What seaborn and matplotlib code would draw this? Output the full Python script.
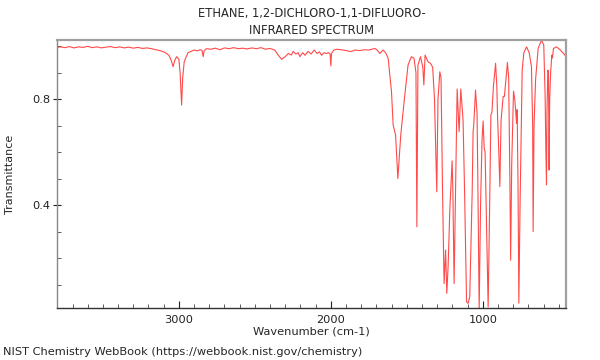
#!/usr/bin/env python3
"""IR spectrum of 1,2-dichloro-1,1-difluoroethane (NIST WebBook style)."""

import matplotlib
matplotlib.use("Agg")
import matplotlib.pyplot as plt
import numpy as np
import pandas as pd
import seaborn as sns
from matplotlib.ticker import FixedLocator, MultipleLocator

TITLE_LINES = ["ETHANE, 1,2-DICHLORO-1,1-DIFLUORO-", "INFRARED SPECTRUM"]
X_LABEL = "Wavenumber (cm-1)"
Y_LABEL = "Transmittance"
FOOTER = "NIST Chemistry WebBook (https://webbook.nist.gov/chemistry)"

X_TICKS = [1000, 2000, 3000]
Y_TICKS = [0.4, 0.8]

# values (cm-1, transmittance)
wavenumber = [
    3802, 3780, 3750, 3720, 3690, 3660, 3630, 3600, 3570, 3540,
    3510, 3480, 3450, 3420, 3390, 3360, 3330, 3300, 3270, 3240,
    3210, 3180, 3150, 3120, 3090, 3065, 3050, 3038, 3028, 3015,
    3000, 2992, 2982, 2975, 2965, 2955, 2940, 2920, 2900, 2880,
    2860, 2848, 2840, 2834, 2820, 2790, 2760, 2730, 2700, 2670,
    2640, 2610, 2580, 2550, 2520, 2490, 2460, 2430, 2400, 2370,
    2345, 2324, 2300, 2280, 2260, 2248, 2230, 2215, 2204, 2185,
    2170, 2150, 2130, 2110, 2090, 2075, 2061, 2045, 2030, 2015,
    2005, 2000, 1996, 1980, 1960, 1930, 1900, 1870, 1840, 1810,
    1780, 1750, 1730, 1711, 1695, 1678, 1656, 1640, 1623, 1601,
    1590, 1574, 1559, 1540, 1518, 1492, 1470, 1453, 1440, 1434,
    1427, 1410, 1395, 1388, 1380, 1360, 1345, 1330, 1318, 1303,
    1295, 1283, 1275, 1265, 1255, 1245, 1237, 1228, 1217, 1202,
    1197, 1189, 1169, 1156, 1145, 1130, 1120, 1107, 1097, 1086,
    1070, 1064, 1060, 1048, 1038, 1032, 1024, 1015, 1005, 998,
    991, 985, 975, 965, 955, 947, 940, 930, 916, 908,
    903, 896, 888, 880, 866, 858, 838, 830, 822, 817,
    810, 798, 789, 778, 774, 768, 763, 755, 741, 730,
    712, 695, 680, 672, 669, 663, 653, 636, 614, 599,
    590, 585, 581, 578, 572, 568, 564, 560, 554, 546,
    542, 535, 515, 490, 460, 454,
]
transmittance = [
    0.995, 0.997, 0.994, 0.998, 0.993, 0.997, 0.995, 0.999, 0.994, 0.997,
    0.993, 0.996, 0.998, 0.994, 0.997, 0.993, 0.996, 0.992, 0.995, 0.991,
    0.993, 0.990, 0.986, 0.982, 0.976, 0.965, 0.945, 0.922, 0.945, 0.960,
    0.950, 0.900, 0.777, 0.880, 0.940, 0.955, 0.975, 0.980, 0.985, 0.982,
    0.986, 0.984, 0.960, 0.982, 0.990, 0.988, 0.992, 0.986, 0.993, 0.990,
    0.994, 0.990, 0.992, 0.989, 0.993, 0.990, 0.994, 0.988, 0.991, 0.985,
    0.965, 0.950, 0.960, 0.972, 0.966, 0.980, 0.970, 0.975, 0.960, 0.975,
    0.965, 0.980, 0.970, 0.985, 0.972, 0.978, 0.965, 0.975, 0.972, 0.975,
    0.970, 0.925, 0.972, 0.985, 0.988, 0.986, 0.983, 0.979, 0.985, 0.983,
    0.986, 0.985, 0.988, 0.991, 0.985, 0.972, 0.985, 0.975, 0.954, 0.828,
    0.702, 0.664, 0.500, 0.664, 0.790, 0.928, 0.960, 0.954, 0.900, 0.318,
    0.928, 0.960, 0.920, 0.853, 0.966, 0.940, 0.935, 0.920, 0.800, 0.450,
    0.800, 0.903, 0.880, 0.450, 0.104, 0.230, 0.067, 0.174, 0.385, 0.567,
    0.450, 0.104, 0.838, 0.677, 0.838, 0.720, 0.450, 0.035, 0.029, 0.054,
    0.450, 0.677, 0.700, 0.834, 0.745, 0.450, 0.005, 0.400, 0.650, 0.717,
    0.614, 0.600, 0.300, 0.016, 0.400, 0.740, 0.750, 0.850, 0.935, 0.850,
    0.733, 0.620, 0.470, 0.720, 0.810, 0.810, 0.938, 0.880, 0.500, 0.192,
    0.550, 0.830, 0.796, 0.708, 0.760, 0.450, 0.030, 0.400, 0.909, 0.975,
    0.997, 0.975, 0.922, 0.700, 0.300, 0.700, 0.872, 0.991, 1.022, 1.004,
    0.810, 0.600, 0.476, 0.750, 0.909, 0.900, 0.532, 0.800, 0.897, 0.966,
    0.955, 0.991, 0.997, 0.985, 0.966, 0.960,
]

sns.set_style("ticks")
plt.rcParams.update({
    "font.family": ["DejaVu Sans"],
    "font.size": 8,
})


def main() -> None:
    df = pd.DataFrame({"wavenumber": wavenumber, "transmittance": transmittance})

    fig, ax = plt.subplots(figsize=(6, 3.6), dpi=100)
    fig.subplots_adjust(left=0.095, right=0.943, bottom=0.144, top=0.889)

    sns.lineplot(data=df, x="wavenumber", y="transmittance", ax=ax,
                 color="#ff2a2a", linewidth=0.8, alpha=0.85,
                 estimator=None, sort=False)

    ax.set_xlim(3802, 454)
    ax.set_ylim(0.011, 1.023)

    ax.xaxis.set_major_locator(FixedLocator(X_TICKS))
    ax.xaxis.set_minor_locator(MultipleLocator(100))
    ax.yaxis.set_major_locator(FixedLocator(Y_TICKS))
    ax.yaxis.set_minor_locator(MultipleLocator(0.1))
    ax.set_xticklabels([str(t) for t in X_TICKS])
    ax.set_yticklabels([f"{t:.1f}" for t in Y_TICKS])

    ax.tick_params(axis="x", which="major", direction="in", length=5, width=0.8,
                   labelsize=8.2, pad=5, colors="#222222")
    ax.tick_params(axis="x", which="minor", direction="in", length=3, width=0.6,
                   colors="#444444")
    ax.tick_params(axis="y", which="major", direction="inout", length=6, width=0.8,
                   labelsize=8.2, pad=2, colors="#222222")
    ax.tick_params(axis="y", which="minor", direction="in", length=3, width=0.6,
                   colors="#444444")

    for side in ["top", "right"]:
        ax.spines[side].set_color("#a0a0a0")
        ax.spines[side].set_linewidth(1.6)
    ax.spines["left"].set_color("#888888")
    ax.spines["left"].set_linewidth(1.0)
    ax.spines["bottom"].set_color("#333333")
    ax.spines["bottom"].set_linewidth(1.0)

    ax.set_xlabel("")
    ax.set_ylabel("")

    cx = (0.095 + 0.943) / 2
    fig.text(cx, 1 - 13 / 360, TITLE_LINES[0], ha="center", va="center", fontsize=8.3)
    fig.text(cx, 1 - 30 / 360, TITLE_LINES[1], ha="center", va="center", fontsize=8.3)
    fig.text(cx, 1 - 332 / 360, X_LABEL, ha="center", va="center", fontsize=8.2)
    fig.text(10 / 600, (0.144 + 0.889) / 2, Y_LABEL, ha="center", va="center",
             rotation=90, fontsize=8)
    fig.text(3 / 600, 1 - 352 / 360, FOOTER, ha="left", va="center", fontsize=8.2)

    fig.savefig("out.png", dpi=100)
    plt.close(fig)


if __name__ == "__main__":
    main()
